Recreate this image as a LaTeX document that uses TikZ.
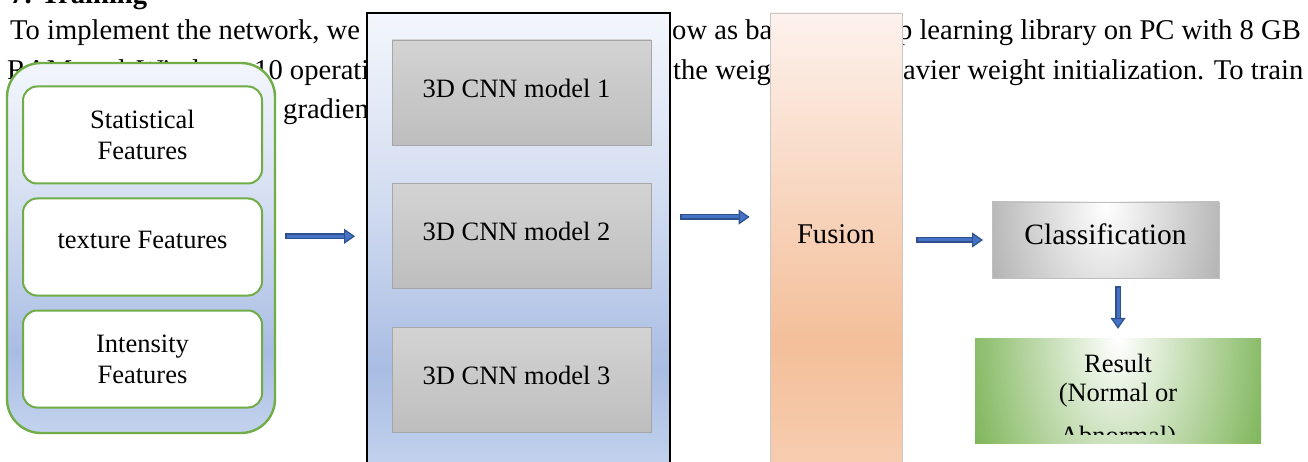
\documentclass[tikz,border=0pt]{standalone}
\usepackage{fontspec}
\setmainfont{Liberation Serif}
\usepackage{xcolor}
\usepackage{tikz}
\usetikzlibrary{positioning,arrows.meta}
\definecolor{leafgreen}{HTML}{70AD47}
\definecolor{arrowedge}{HTML}{2F528F}
\definecolor{arrowfill}{HTML}{4472C4}
\definecolor{boxgrey}{HTML}{A6A6A6}
\definecolor{greytop}{HTML}{D3D3D3}
\definecolor{greybot}{HTML}{BEBEBE}
\definecolor{clsgrey}{HTML}{A3A3A3}
\definecolor{clsedge}{HTML}{BFBFBF}
\definecolor{fusionedge}{HTML}{C8C8C8}
\definecolor{blueT}{HTML}{F3F6FC}
\definecolor{blueM}{HTML}{D3DDF1}
\definecolor{blueB}{HTML}{A9BDE3}
\definecolor{blueC}{HTML}{C3D3EE}
\definecolor{peachT}{HTML}{FDF2ED}
\definecolor{peachB}{HTML}{F4BF9A}
\definecolor{peachC}{HTML}{F7CDB0}
\pgfdeclareverticalshading{bluefade}{100bp}{color(0bp)=(blueC); color(25bp)=(blueC); color(36bp)=(blueB); color(55bp)=(blueM); color(75bp)=(blueT); color(100bp)=(blueT)}
\pgfdeclareverticalshading{peachfade}{100bp}{color(0bp)=(peachC); color(25bp)=(peachC); color(39bp)=(peachB); color(75bp)=(peachT); color(100bp)=(peachT)}
\newcommand{\lifted}[2]{\raisebox{#1}[\height][\depth]{#2}}
\newcommand{\flowline}[4]{%
  \draw[flowarrow, shorten <=#3, shorten >=#4] #1 -- #2;
  \draw[flowcore, shorten <=#3+1.5pt, shorten >=#4+11pt] #1 -- #2;}

\begin{document}
\begin{tikzpicture}[x=1pt, y=-1pt, every node/.style={font=\fontsize{26.5}{31}\selectfont},
    papertext/.style={font=\fontsize{28.6}{34}\selectfont, inner sep=0pt},
    featbox/.style={draw=leafgreen, line width=2pt, fill=white, rounded corners=14pt, minimum width=239pt, minimum height=97pt, align=center},
    cnnbox/.style={draw=boxgrey, line width=0.8pt, top color=greytop, bottom color=greybot, minimum width=259pt, minimum height=105pt},
    flowarrow/.style={draw=arrowedge, line width=6pt, -{Triangle[length=11pt, width=15pt, line width=1.2pt, fill=arrowfill]}},
    flowcore/.style={draw=arrowfill, line width=3pt}]
  \useasboundingbox (0,0) rectangle (1308,462);
  \clip (0,0) rectangle (1308,462);
  \fill[white] (0,0) rectangle (1308,462);

  \node[papertext, anchor=base west] (ttl) at (10,4) {\textbf{7. Training}};
  \node[papertext, anchor=base west] (p1a) at (10,39.5) {To implement the network, we};
  \node[papertext, anchor=base west] (p1b) at (672,39.5) {ow as ba};
  \node[papertext, anchor=base east] (p1c) at (1301,39.5) {p learning library on PC with 8 GB};
  \node[papertext, anchor=base west] (p2a) at (7,79.5) {\makebox[238pt][s]{RAM and Windows}};
  \node[papertext, anchor=base west] (p2b) at (254,79.5) {10 operati};
  \node[papertext, anchor=base west] (p2c) at (673,79.5) {the weig};
  \node[papertext, anchor=base west] (p2d) at (903,79.5) {\makebox[400pt][s]{avier weight initialization. To train}};
  \node[papertext, anchor=base west] (p3a) at (283,119) {gradien};

  \node[draw=leafgreen, line width=2.4pt, rounded corners=34pt, shade, shading=bluefade, minimum width=268pt, minimum height=370pt] (feat) at (141,248) {};
  \node[featbox] (stat) at (142.5,135) {Statistical\\Features};
  \node[featbox, below=13pt of stat] (tex) {\lifted{7pt}{texture Features}};
  \node[featbox, below=13pt of tex] (inten) {Intensity\\Features};

  \node[draw=black, line width=2pt, shade, shading=bluefade, minimum width=303pt, minimum height=457pt] (cnn) at (518.5,241.5) {};
  \node[cnnbox] (m1) at (521.5,92.5) {\lifted{4.5pt}{3D CNN model 1}\hspace*{10pt}};
  \node[cnnbox, below=38pt of m1] (m2) {\lifted{4.5pt}{3D CNN model 2}\hspace*{10pt}};
  \node[cnnbox, below=38pt of m2] (m3) {\lifted{4.5pt}{3D CNN model 3}\hspace*{10pt}};

  \node[draw=fusionedge, line width=0.8pt, shade, shading=peachfade, minimum width=132pt, minimum height=457pt, font=\fontsize{28.6}{34}\selectfont] (fus) at (836,241.5) {\lifted{7pt}{Fusion}};

  \node[draw=clsedge, line width=0.8pt, minimum width=227pt, minimum height=76pt, font=\fontsize{29.5}{34}\selectfont,
    path picture={\fill[clsgrey] (path picture bounding box.south west) rectangle (path picture bounding box.north east);
      \shade[inner color=white, outer color=clsgrey] ([yshift=-3pt]path picture bounding box.north) ellipse [x radius=150pt, y radius=230pt];}] (cls) at (1105.5,240) {\lifted{6pt}{Classification}};

  \node[minimum width=286pt, minimum height=105pt,
    path picture={\fill[leafgreen] (path picture bounding box.south west) rectangle (path picture bounding box.north east);
      \shade[inner color=white, outer color=leafgreen] ([yshift=-2pt]path picture bounding box.north) ellipse [x radius=175pt, y radius=290pt];}] (res) at (1118,390.5) {};
  \begin{scope}
    \clip (res.north west) rectangle ([yshift=9pt]res.south east);
    \node[align=center, font=\fontsize{26.5}{29}\selectfont] (restxt) at ([yshift=-12pt]res.center) {Result\\(Normal or\\[14pt]Abnormal)};
  \end{scope}

  \flowline{(feat.east |- m2)}{(cnn.west |- m2)}{9pt}{11pt}
  \flowline{([yshift=24.5pt]cnn.east)}{([yshift=24.5pt]fus.west)}{9pt}{20pt}
  \flowline{(fus.east |- cls)}{(cls.west)}{13.6pt}{8.6pt}
  \flowline{(res.north |- cls.south)}{(res.north)}{7.6pt}{9pt}
\end{tikzpicture}
\end{document}
